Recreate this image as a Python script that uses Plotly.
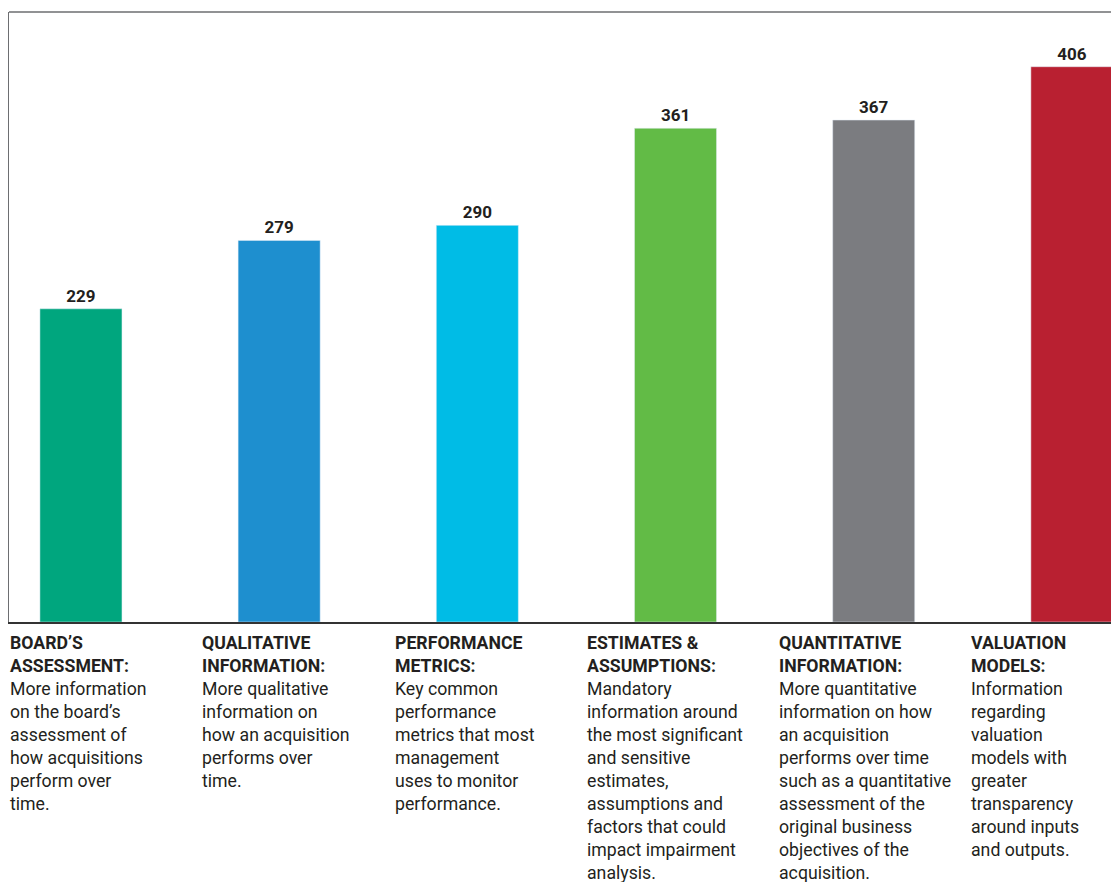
import plotly.graph_objects as go

categories = ["BOARD'S ASSESSMENT", "QUALITATIVE INFORMATION", "PERFORMANCE METRICS",
              "ESTIMATES & ASSUMPTIONS", "QUANTITATIVE INFORMATION", "VALUATION MODELS"]
values = [229, 279, 290, 361, 367, 406]
colors = ["#00A67E", "#1E8FCF", "#00BCE6", "#62BB46", "#7B7C80", "#B92031"]

headings = ["BOARD’S<br>ASSESSMENT:", "QUALITATIVE<br>INFORMATION:", "PERFORMANCE<br>METRICS:",
            "ESTIMATES &<br>ASSUMPTIONS:", "QUANTITATIVE<br>INFORMATION:", "VALUATION<br>MODELS:"]
descriptions = [
    "More information<br>on the board’s<br>assessment of<br>how acquisitions<br>perform over<br>time.",
    "More qualitative<br>information on<br>how an acquisition<br>performs over<br>time.",
    "Key common<br>performance<br>metrics that most<br>management<br>uses to monitor<br>performance.",
    "Mandatory<br>information around<br>the most significant<br>and sensitive<br>estimates,<br>assumptions and<br>factors that could<br>impact impairment<br>analysis.",
    "More quantitative<br>information on how<br>an acquisition<br>performs over time<br>such as a quantitative<br>assessment of the<br>original business<br>objectives of the<br>acquisition.",
    "Information<br>regarding<br>valuation<br>models with<br>greater<br>transparency<br>around inputs<br>and outputs.",
]

FONT = "Roboto, DejaVu Sans, sans-serif"
TXT = "#231F20"

fig = go.Figure()
fig.add_trace(go.Bar(
    x=categories, y=values, marker_color=colors, width=0.414,
    text=values, texttemplate="<b>%{text}</b>", textposition="outside",
    textfont=dict(family=FONT, size=17, color=TXT), cliponaxis=False,
))
# invisible helper trace so the label axis exists
fig.add_trace(go.Scatter(x=[0], y=[0], xaxis="x2", mode="markers",
                         marker=dict(opacity=0), hoverinfo="skip"))

# description columns sit on their own (slightly tighter) axis
for i, (h, d) in enumerate(zip(headings, descriptions)):
    fig.add_annotation(
        x=i, y=0, xref="x2", yref="paper", xanchor="left", yanchor="top",
        xshift=-1, yshift=-9, align="left", showarrow=False,
        text="<b>" + h + "</b><br>" + d,
        font=dict(family=FONT, size=17.7, color=TXT),
    )

# top border of the frame
fig.add_shape(type="line", xref="paper", yref="paper", x0=0, x1=1, y0=1, y1=1,
              line=dict(color="#6D6E71", width=1.5))

fig.update_layout(
    width=1119, height=882,
    margin=dict(l=1, r=0, t=4, b=268),
    paper_bgcolor="white", plot_bgcolor="white",
    showlegend=False, bargap=0.5,
    xaxis2=dict(overlaying="x", range=[0, 5.814], visible=False, fixedrange=True),
)
fig.update_layout(xaxis=dict(range=[-0.363, 5.278], showline=True, linecolor="#333333", linewidth=2,
                             showticklabels=False, ticks="", showgrid=False, zeroline=False))
fig.update_yaxes(range=[0, 446], showline=True, linecolor="#6D6E71", linewidth=2,
                 showticklabels=False, ticks="", showgrid=False, zeroline=False)

fig.write_html("out.html")
